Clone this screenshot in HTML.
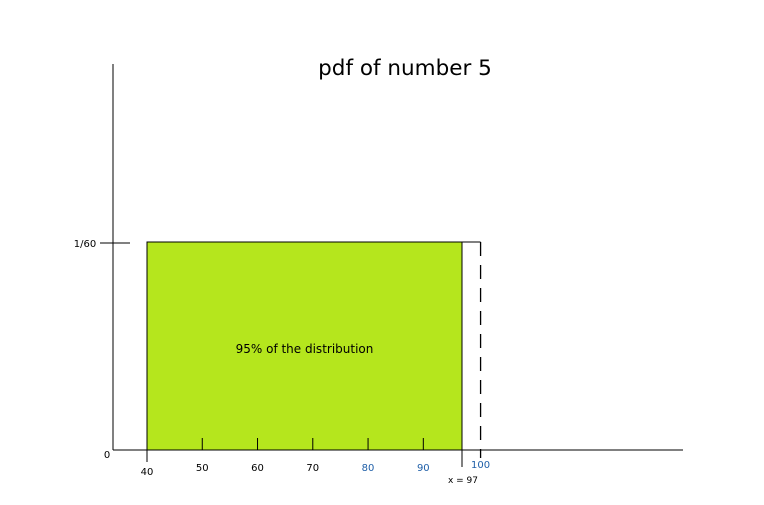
<!DOCTYPE html>
<html><head><meta charset="utf-8"><style>
html,body{margin:0;padding:0;background:#fff;width:764px;height:505px;overflow:hidden}
svg{display:block}
text{font-family:"DejaVu Sans","Liberation Sans",sans-serif}
</style></head><body>
<svg id="c" width="764" height="505">
<text x="405" y="75" text-anchor="middle" font-size="21.5" font-family="DejaVu Sans">pdf of number 5</text>
</svg>
<script>
const tickValues=[50,60,70,80,90];
const tickLabels=["50","60","70","80","90"];
const tickColors=["#000","#000","#000","#1f5fa8","#1f5fa8"];
const rangeStart=[40];
const rangeEnd=[97];
const upperBound=[100];
const density=[1/60];
const NS="http://www.w3.org/2000/svg";
const svg=document.getElementById('c');
const xS=v=>147+(v-40)*(462-147)/57;
const yS=v=>450-v*(208*60);
function mk(t,a,txt){const e=document.createElementNS(NS,t);for(const k in a)e.setAttribute(k,a[k]);if(txt!==undefined)e.textContent=txt;svg.appendChild(e);return e;}
const x0=xS(rangeStart[0]),x1=xS(rangeEnd[0]),xu=xS(upperBound[0])+2,yt=yS(density[0]);
let r=mk('rect',{x:x0,y:yt,width:x1-x0,height:450-yt,fill:'#b5e61d',stroke:'#000','stroke-width':1});


let l=mk('polyline',{points:`${x1},${yt} ${xu},${yt}`,fill:'none',stroke:'#000','stroke-width':1});


l=mk('line',{x1:xu,y1:yt,x2:xu,y2:458,stroke:'#000','stroke-width':1.3,'stroke-dasharray':'14,9'});


l=mk('line',{x1:113,y1:64,x2:113,y2:450,stroke:'#000','stroke-width':1});


l=mk('line',{x1:113,y1:450,x2:683,y2:450,stroke:'#000','stroke-width':1});


l=mk('line',{x1:100,y1:yt+1,x2:130,y2:yt+1,stroke:'#000','stroke-width':1});


let t=mk('text',{x:85,y:yt+5,'font-size':10,'text-anchor':'middle'},'1/60');


t=mk('text',{x:107,y:458,'font-size':10,'text-anchor':'middle'},'0');


l=mk('line',{x1:x0,y1:450,x2:x0,y2:462,stroke:'#000','stroke-width':1});


t=mk('text',{x:x0,y:475,'font-size':10,'text-anchor':'middle'},String(rangeStart[0]));


l=mk('line',{x1:x1,y1:450,x2:x1,y2:467,stroke:'#000','stroke-width':1});


t=mk('text',{x:x1+1,y:483,'font-size':9,'text-anchor':'middle'},'x = '+rangeEnd[0]);


t=mk('text',{x:xu,y:468,'font-size':10,'text-anchor':'middle',fill:'#1f5fa8'},String(upperBound[0]));


tickValues.forEach((v,i)=>{
  const x=xS(v);
  const ln=mk('line',{x1:x,y1:438,x2:x,y2:450,stroke:'#000','stroke-width':1});
  
  
  const tx=mk('text',{x:x,y:471,'font-size':10,'text-anchor':'middle',fill:tickColors[i]},tickLabels[i]);
  
  
});
t=mk('text',{x:(x0+x1)/2,y:353,'font-size':12,'text-anchor':'middle'},'95% of the distribution');


</script>
</body></html>
